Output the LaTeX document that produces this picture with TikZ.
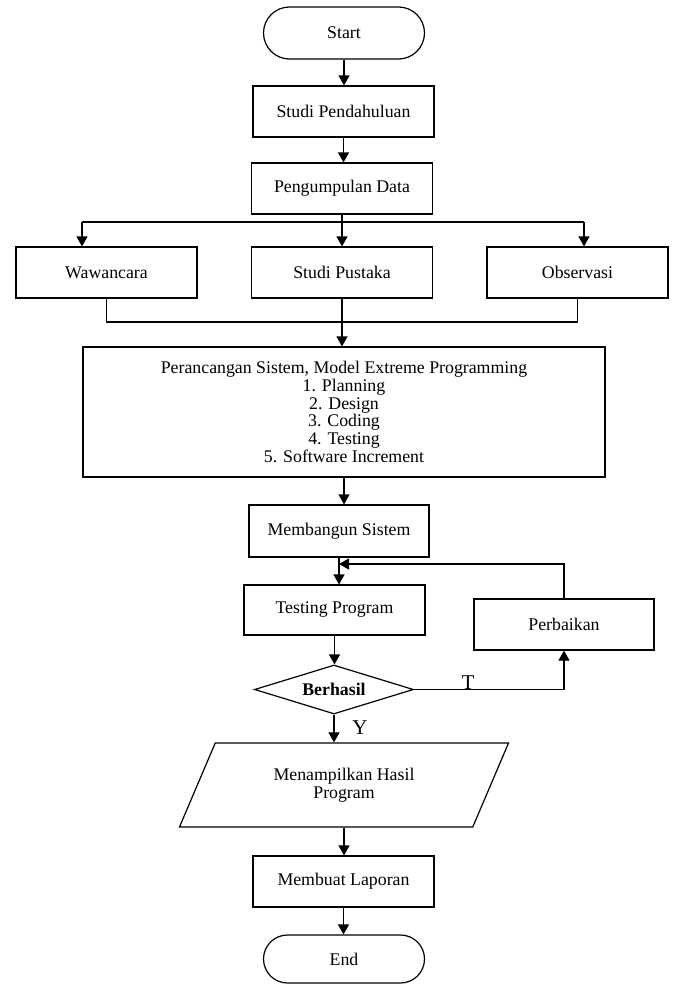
\documentclass[tikz,border=0pt]{standalone}
\usepackage{fontspec}
\setmainfont{Liberation Serif}
\usetikzlibrary{arrows.meta,shapes.misc,shapes.geometric}
\begin{document}
\begin{tikzpicture}[x=1pt,y=-1pt,
  every node/.style={font=\fontsize{17.8}{17.7}\selectfont},
  box/.style={draw, line width=1.2pt, rectangle, minimum width=181pt, minimum height=51pt, inner sep=0pt},
  term/.style={draw, line width=1.2pt, rounded rectangle, minimum width=161pt, minimum height=52pt, inner sep=0pt},
  dia/.style={draw, line width=1.2pt, diamond, aspect=3.2, minimum width=159pt, minimum height=49pt, inner sep=0pt},
  para/.style={draw, line width=1.2pt, trapezium, trapezium left angle=60, trapezium right angle=120, trapezium stretches=true, minimum width=330pt, minimum height=84pt, inner sep=0pt, align=center},
  lbl/.style={font=\fontsize{21}{22}\selectfont, inner sep=0pt},
  line/.style={line width=1.2pt},
  arr/.style={line width=1.2pt, -{Triangle[length=10pt,width=11pt]}}
]
\useasboundingbox (0,0) rectangle (672,985);
\fill[white] (0,0) rectangle (672,985);

\node[term] (start) at (344,33) {Start};
\node[box] (sp) at (343.5,111.5) {Studi Pendahuluan};
\node[box] (pd) at (342,188.5) {Pengumpulan Data};
\node[box] (waw) at (106.5,272.5) {Wawancara};
\node[box] (pus) at (342,272.5) {Studi Pustaka};
\node[box] (obs) at (577.5,272.5) {Observasi};
\node[box, minimum width=522pt, minimum height=130pt, align=center] (per) at (344,412)
  {Perancangan Sistem, Model Extreme Programming\\1. Planning\\2. Design\\3. Coding\\4. Testing\\5. Software Increment};
\node[box, minimum width=180pt, minimum height=52pt] (mem) at (339,531) {Membangun Sistem};
\node[box, minimum height=50pt] (tes) at (334.5,610) {Testing Program};
\node[box, minimum width=180pt] (perb) at (564,624.5) {Perbaikan};
\node[dia] (ber) at (334,689.5) {\textbf{Berhasil}};
\node[para] (tam) at (344,785) {Menampilkan Hasil\\Program};
\node[box] (lap) at (343.5,881.5) {Membuat Laporan};
\node[term, minimum height=48pt] (end) at (344,959) {End};

\draw[arr] (start.south) -- (start.south |- sp.north);
\draw[arr] (sp.south) -- (sp.south |- pd.north);

\coordinate (jl) at (82,222);
\coordinate (jr) at (584,222);
\draw[line] (jl) -- (jr);
\draw[arr] (pd.south) -- (pd.south |- pus.north);
\draw[arr] (jl) -- (jl |- waw.north);
\draw[arr] (jr) -- (jr |- obs.north);

\coordinate (k) at (343,322);
\draw[line] (waw.south) -- (waw.south |- k) -- (obs.south |- k) -- (obs.south);
\draw[arr] (pus.south) -- (pus.south |- per.north);
\draw[arr] (per.south) -- (per.south |- mem.north);
\draw[arr] (mem.south) -- (mem.south |- tes.north);

\coordinate (fb) at (339,564);
\draw[arr] (perb.north) |- (fb);
\draw[arr] (tes.south) -- (tes.south |- ber.north);
\draw[arr] (ber.east) -| (perb.south);
\node[lbl, anchor=base] (tl) at (468,689) {T};
\draw[arr] (ber.south) -- (ber.south |- tam.north);
\node[lbl] (yl) at (360,728) {Y};
\draw[arr] (tam.south) -- (tam.south |- lap.north);
\draw[arr] (lap.south) -- (lap.south |- end.north);
\end{tikzpicture}
\end{document}
